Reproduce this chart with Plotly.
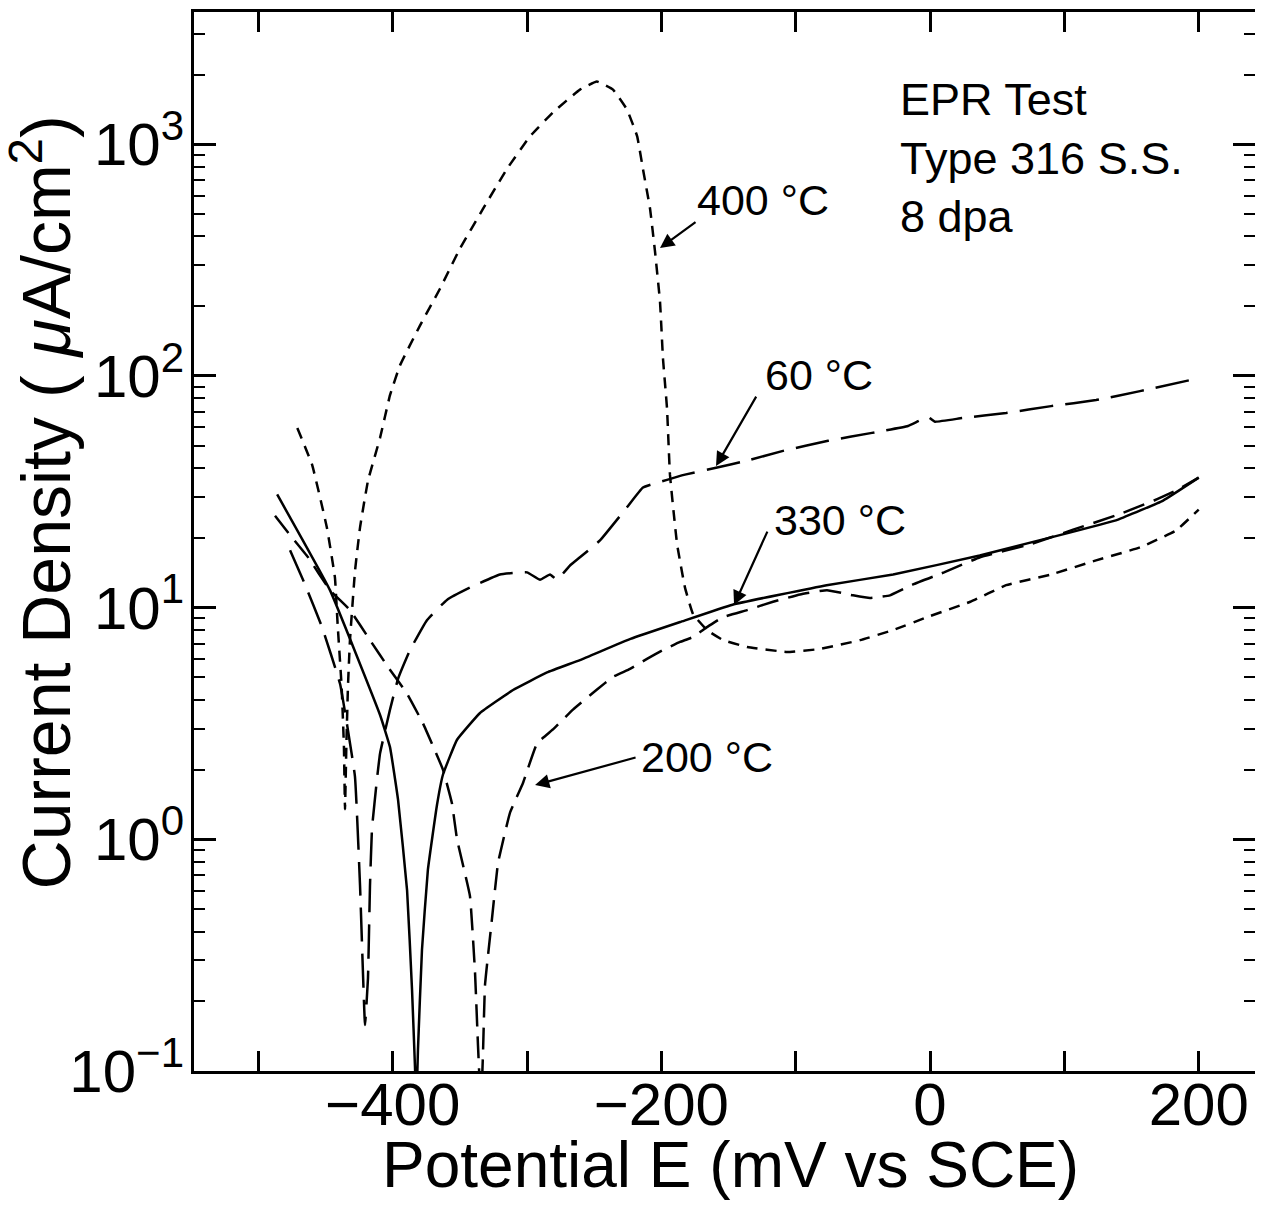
import plotly.graph_objects as go

# ---- data (E in mV vs SCE, current density in uA/cm2) ----
E_330 = [-486, -446.7, -409.4, -402, -396, -389.3, -385.6, -383.4, -382.4, -381.2, -378.2, -373.8, -367,
         -362.6, -352.1, -335, -310.4, -285.1, -260.6, -223, -186, -147, -77, -27.5, 37, 90, 140, 173.5, 200]
I_330 = [30.8, 11.9, 3.44, 2.50, 1.48, 0.604, 0.224, 0.104, 0.07, 0.123, 0.333, 0.738, 1.41,
         1.90, 2.69, 3.51, 4.41, 5.25, 5.94, 7.33, 8.67, 10.3, 12.5, 13.9, 16.8, 20.1, 24.0, 29.0, 36.4]

E_400 = [-471, -460, -449, -443, -441, -438, -436.3, -435.5, -434.5, -433.3,
         -431.8, -428, -424.3, -418.4, -409.4, -402, -394.6, -379.7, -364.8, -350,
         -332.8, -315, -297.8, -280.7, -260.6, -248, -236, -225.6, -218, -213.7,
         -208.4, -204.7, -201, -198.8, -195.8, -193.6, -188.3, -182.4, -176.4, -166,
         -154, -136, -106.5, -82, -52, -27.5, -2.2, 30, 56.6, 90,
         123.6, 156.3, 183, 200]
I_400 = [59.6, 41.4, 22.2, 13.5, 8.5, 4.55, 2.52, 1.35, 2.52, 4.55,
         7.24, 14.5, 22.2, 35.3, 54.1, 82.6, 111, 165, 238, 354,
         526, 782, 1082, 1372, 1722, 1866, 1722, 1413, 1082, 782,
         526, 343, 209, 119, 72.6, 37.5, 18.8, 12.2, 9.37, 8.0,
         7.24, 6.76, 6.44, 6.63, 7.24, 8.0, 9.10, 10.6, 12.5, 13.9,
         16.0, 18.2, 21.5, 26.5]

E_60 = [-476.4, -465.3, -452.6, -439.2, -428.1, -424.3, -420.6, -418.4, -416.9, -415.4,
        -411.7, -409.4, -402, -396, -387.1, -374.5, -359.6, -342.5, -320.2, -300,
        -290.3, -282.9, -277.7, -268, -260.6, -245.7, -225.6, -213.7, -195.8, -182.4,
        -159.3, -136.2, -109.4, -75.9, -43.2, -16.4, -1.5, 3.7, 23.8, 56.6,
        90.1, 123.6, 156.3, 200]
I_60 = [17.7, 12.6, 8.24, 4.69, 1.87, 0.63, 0.158, 0.251, 0.63, 1.11,
        1.82, 2.35, 3.63, 4.93, 6.56, 8.83, 10.8, 12.2, 13.9, 14.2,
        13.2, 13.9, 13.2, 15.2, 16.5, 19.5, 27.1, 33.0, 35.6, 37.5,
        40.2, 43.1, 47.5, 52.5, 56.8, 60.8, 66.5, 63.5, 65.8, 69.2,
        74.1, 78.7, 86.0, 97.8]

E_200 = [-487.6, -477.9, -463, -446.7, -431.8, -416.9, -403.5, -389.3, -377.4, -362.6,
         -355.9, -352.1, -342.5, -338.7, -336.5, -334.3, -332.8, -331.3, -326.1, -321.6,
         -312.7, -303, -292.6, -280.7, -265.8, -247.9, -236, -223.3, -210.7, -198.8,
         -186.1, -176.4, -166, -154.1, -136.2, -116.9, -96.8, -76.7, -57.3, -44.7,
         -29.8, -12.7, 10.4, 37.2, 73.7, 106.5, 140, 166.8, 183.1, 200]
I_200 = [24.9, 21.1, 16.5, 11.9, 9.76, 7.24, 5.55, 4.25, 3.16, 2.00,
         1.43, 1.0, 0.57, 0.266, 0.129, 0.07, 0.118, 0.234, 0.454, 0.79,
         1.30, 1.75, 2.59, 2.98, 3.63, 4.43, 5.03, 5.44, 6.01, 6.56,
         7.11, 7.47, 8.24, 9.10, 9.76, 10.6, 11.4, 11.9, 11.3, 11.0,
         11.3, 12.6, 14.2, 16.5, 18.7, 21.7, 25.2, 29.0, 32.0, 36.4]

x_tick_vals = [-500, -400, -300, -200, -100, 0, 100, 200]
x_tick_text = ["", "\u2212400", "", "\u2212200", "", "0", "", "200"]
y_tick_vals = [0.1, 1, 10, 100, 1000]
y_tick_text = ["10<sup>\u22121</sup>", "10<sup>0</sup>", "10<sup>1</sup>", "10<sup>2</sup>", "10<sup>3</sup>"]

FONT = "Liberation Sans, Arial, Helvetica, sans-serif"

fig = go.Figure()
series = [
    (E_330, I_330, "330 \u00b0C", "solid"),
    (E_60, I_60, "60 \u00b0C", "34px,12px"),
    (E_200, I_200, "200 \u00b0C", "22px,10px"),
    (E_400, I_400, "400 \u00b0C", "11px,8px"),
]
for ex, iy, name, dash in series:
    fig.add_trace(go.Scatter(x=ex, y=iy, mode="lines", name=name,
                             line=dict(color="black", width=2.5, dash=dash,
                                       shape="spline", smoothing=0.3)))

minor_vals = [m * 10 ** k for k in range(-1, 4) for m in range(2, 10)]

# the page adds an 8px body margin, so the figure is 8px smaller than the window
fig.update_layout(
    width=1255, height=1201,
    margin=dict(l=186, r=8, t=4, b=138),
    paper_bgcolor="white", plot_bgcolor="white",
    showlegend=False,
    font=dict(family=FONT, color="black"),
    xaxis=dict(range=[-547.9, 241.9], tickmode="array", tickvals=x_tick_vals,
               ticktext=x_tick_text, ticks="inside", ticklen=20, tickwidth=2.5,
               tickcolor="black", showline=True, linewidth=3, linecolor="black",
               mirror="ticks", showgrid=False, zeroline=False, automargin=False,
               ticklabelstandoff=-21,
               tickfont=dict(size=60, family=FONT)),
    yaxis=dict(type="log", range=[-1, 3.571], tickmode="array", tickvals=y_tick_vals,
               ticktext=y_tick_text, ticks="inside", ticklen=22, tickwidth=2.5,
               tickcolor="black", showline=True, linewidth=3, linecolor="black",
               mirror="ticks", showgrid=False, zeroline=False, automargin=False,
               ticklabelstandoff=-5,
               tickfont=dict(size=60, family=FONT),
               minor=dict(tickmode="array", tickvals=minor_vals, ticks="inside",
                          ticklen=11, tickwidth=2, tickcolor="black", showgrid=False)),
)

annotations = []
# axis titles
annotations.append(dict(text="Potential E (mV vs SCE)", xref="paper", yref="paper",
                        x=0.5052, y=-0.0888, xanchor="center", yanchor="middle",
                        showarrow=False, font=dict(size=64, family=FONT)))
annotations.append(dict(text="Current Density ( <i>\u03bc</i>A/cm<sup>2</sup>)",
                        xref="paper", yref="paper", x=-0.1432, y=0.537,
                        xanchor="center", yanchor="middle", textangle=-90,
                        showarrow=False, font=dict(size=68, family=FONT)))
# info block
annotations.append(dict(text="EPR Test<br>Type 316 S.S.<br>8 dpa", xref="x", yref="paper",
                        x=-24, y=0.943, xanchor="left", yanchor="top", align="left",
                        showarrow=False, font=dict(size=45, family=FONT)))
# curve labels (text)
labels = [("400 \u00b0C", -175, 2.759), ("60 \u00b0C", -124, 2.004),
          ("330 \u00b0C", -118, 1.378), ("200 \u00b0C", -217, 0.355)]
for t, lx, ly in labels:
    annotations.append(dict(text=t, xref="x", yref="y", x=lx, y=ly, xanchor="left",
                            yanchor="middle", showarrow=False, font=dict(size=43, family=FONT)))
# arrows (tip in data coords, tail offset in px)
arrows = [(-201.0, 2.552, 37, -27), (-159.3, 1.611, 41, -71),
          (-145.9, 1.011, 34, -75), (-294.0, 0.234, 102, -28)]
for tx, ty, axp, ayp in arrows:
    annotations.append(dict(text="", xref="x", yref="y", x=tx, y=ty, ax=axp, ay=ayp,
                            showarrow=True, arrowhead=2, arrowsize=1.3, arrowwidth=2.2,
                            arrowcolor="black"))
fig.update_layout(annotations=annotations)

fig.write_html("out.html")
